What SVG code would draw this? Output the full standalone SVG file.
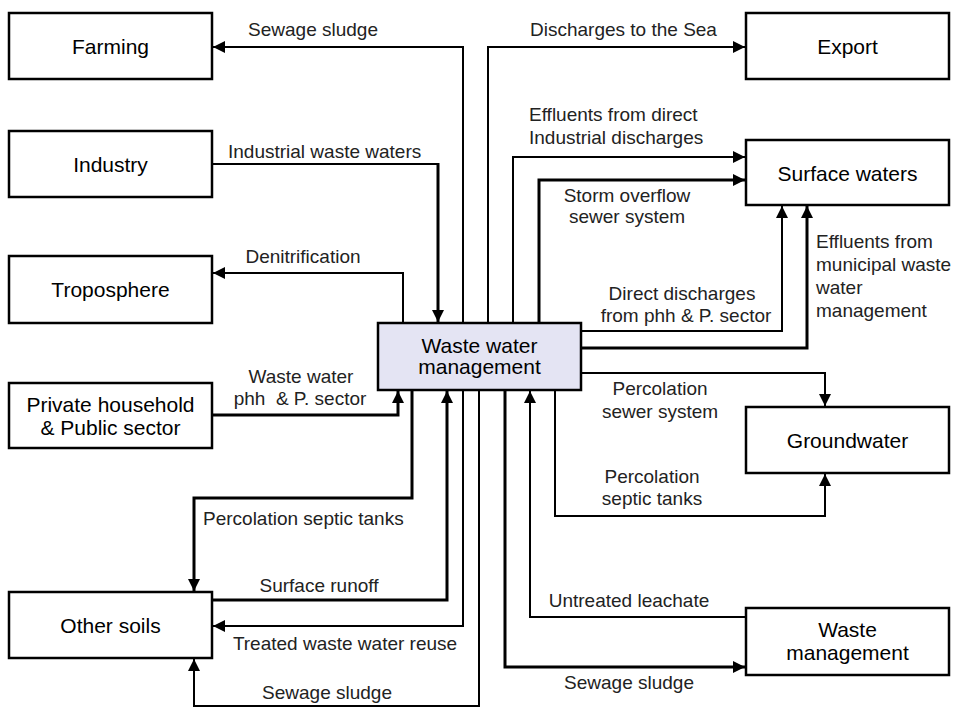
<svg xmlns="http://www.w3.org/2000/svg" width="956" height="708" viewBox="0 0 956 708">
<style>
.box{fill:#fff;stroke:#000;stroke-width:2.5}
.main{fill:#e4e4f3;stroke:#000;stroke-width:2.5}
.nt{font-family:"Liberation Sans",Arial,sans-serif;font-size:21px;fill:#000;text-anchor:middle}
.lb{font-family:"Liberation Sans",Arial,sans-serif;font-size:19px;fill:#222}
.c{text-anchor:middle}
.ln{fill:none;stroke:#000;stroke-width:2}
.tk{fill:none;stroke:#000;stroke-width:3}
</style>
<defs>
<marker id="ah" viewBox="0 0 12 12" refX="12" refY="6" markerWidth="13" markerHeight="12" markerUnits="userSpaceOnUse" orient="auto">
<path d="M0,0 L12,6 L0,12 z" fill="#000"/>
</marker>
</defs>
<rect width="956" height="708" fill="#fff"/>
<g id="connectors">
<path class="ln" d="M463,323 V47 H213" marker-end="url(#ah)"/>
<path class="ln" d="M488,323 V47 H745" marker-end="url(#ah)"/>
<path class="ln" d="M212,164 H438"/>
<path class="tk" d="M438,163 V322" marker-end="url(#ah)"/>
<path class="ln" d="M513,323 V157 H745" marker-end="url(#ah)"/>
<path class="tk" d="M539,323 V180 H745" marker-end="url(#ah)"/>
<path class="ln" d="M403,323 V273 H213" marker-end="url(#ah)"/>
<path class="tk" d="M212,415 H398 V391" marker-end="url(#ah)"/>
<path class="tk" d="M412,390 V498 H194 V591" marker-end="url(#ah)"/>
<path class="tk" d="M212,600 H447 V391" marker-end="url(#ah)"/>
<path class="ln" d="M463,390 V626 H213" marker-end="url(#ah)"/>
<path class="ln" d="M479,390 V706 H194 V659" marker-end="url(#ah)"/>
<path class="tk" d="M505,390 V667 H745" marker-end="url(#ah)"/>
<path class="ln" d="M746,617 H530 V391" marker-end="url(#ah)"/>
<path class="ln" d="M555,390 V516 H825 V474" marker-end="url(#ah)"/>
<path class="ln" d="M581,373 H825 V406" marker-end="url(#ah)"/>
<path class="ln" d="M581,331 H782 V206" marker-end="url(#ah)"/>
<path class="tk" d="M581,348 H807 V206" marker-end="url(#ah)"/>
</g>
<g id="labels">
<text class="lb c" x="313" y="36">Sewage sludge</text>
<text class="lb" x="530" y="36">Discharges to the Sea</text>
<text class="lb" x="228" y="158">Industrial waste waters</text>
<text class="lb" x="529" y="121">Effluents from direct</text>
<text class="lb" x="529" y="144">Industrial discharges</text>
<text class="lb c" x="627" y="202">Storm overflow</text>
<text class="lb c" x="627" y="223">sewer system</text>
<text class="lb c" x="303" y="263">Denitrification</text>
<text class="lb c" x="682" y="300">Direct discharges</text>
<text class="lb c" x="686" y="322">from phh &amp; P. sector</text>
<text class="lb" x="816" y="248">Effluents from</text>
<text class="lb" x="816" y="271">municipal waste</text>
<text class="lb" x="816" y="294">water</text>
<text class="lb" x="816" y="317">management</text>
<text class="lb c" x="301" y="383">Waste water</text>
<text class="lb c" x="300" y="405" xml:space="preserve">phh  &amp; P. sector</text>
<text class="lb c" x="660" y="395">Percolation</text>
<text class="lb c" x="660" y="418">sewer system</text>
<text class="lb c" x="652" y="483">Percolation</text>
<text class="lb c" x="652" y="505">septic tanks</text>
<text class="lb" x="203" y="525">Percolation septic tanks</text>
<text class="lb c" x="319" y="592">Surface runoff</text>
<text class="lb c" x="629" y="607">Untreated leachate</text>
<text class="lb c" x="345" y="650">Treated waste water reuse</text>
<text class="lb c" x="629" y="689">Sewage sludge</text>
<text class="lb c" x="327" y="699">Sewage sludge</text>
</g>
<g id="farming"><rect class="box" x="9" y="13" width="203" height="66"/><text class="nt" x="110.5" y="54">Farming</text></g>
<g id="industry"><rect class="box" x="9" y="131" width="203" height="66"/><text class="nt" x="110.5" y="172">Industry</text></g>
<g id="troposphere"><rect class="box" x="9" y="256" width="203" height="67"/><text class="nt" x="110.5" y="297">Troposphere</text></g>
<g id="private-household"><rect class="box" x="9" y="383" width="203" height="65"/><text class="nt" x="110.5" y="412">Private household</text><text class="nt" x="110.5" y="435">&amp; Public sector</text></g>
<g id="other-soils"><rect class="box" x="9" y="592" width="203" height="66"/><text class="nt" x="110.5" y="633">Other soils</text></g>
<g id="export"><rect class="box" x="746" y="13" width="203" height="66"/><text class="nt" x="847.5" y="54">Export</text></g>
<g id="surface-waters"><rect class="box" x="746" y="140" width="203" height="65"/><text class="nt" x="847.5" y="181">Surface waters</text></g>
<g id="groundwater"><rect class="box" x="746" y="407" width="203" height="66"/><text class="nt" x="847.5" y="448">Groundwater</text></g>
<g id="waste-management"><rect class="box" x="746" y="608" width="203" height="67"/><text class="nt" x="847.5" y="637">Waste</text><text class="nt" x="847.5" y="660">management</text></g>
<g id="waste-water-management"><rect class="main" x="378" y="323" width="203" height="67"/><text class="nt" x="479.5" y="353">Waste water</text><text class="nt" x="479.5" y="374">management</text></g>
</svg>
